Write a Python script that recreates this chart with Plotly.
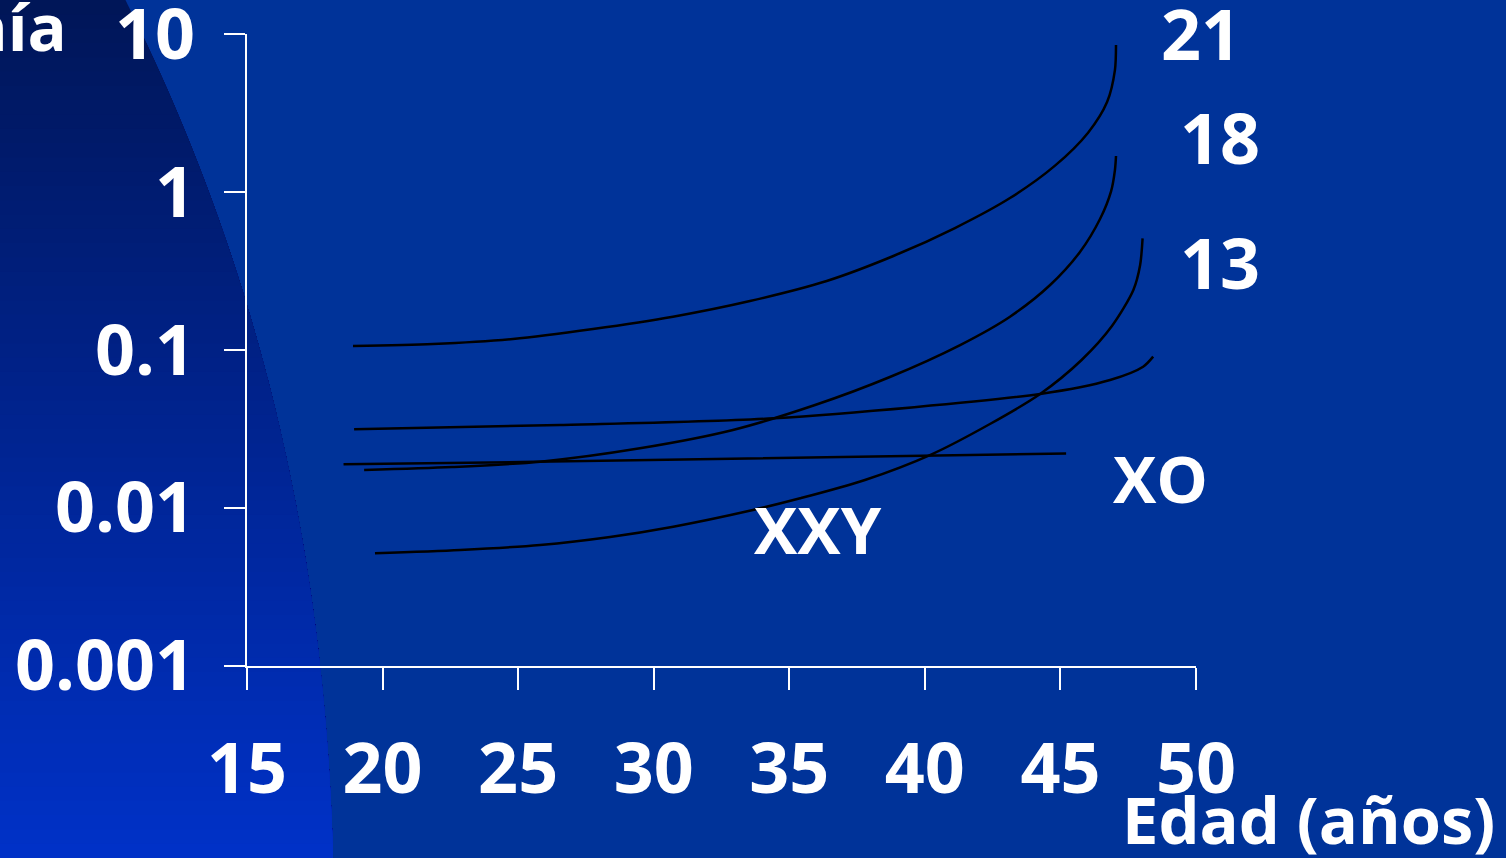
import numpy as np
import plotly.graph_objects as go

# Maternal age (years) and frequency (%) for each curve, log scale
age_21 = [18.91, 21.86, 24.81, 27.76, 30.71, 33.55, 36.38, 38.84, 41.11, 43.14, 44.80, 46.02, 46.72, 47.01, 47.05]
val_21 = [0.1060, 0.1091, 0.1174, 0.1358, 0.1625, 0.2042, 0.2734, 0.3935, 0.5918, 0.9162, 1.469, 2.376, 3.712, 5.918, 8.518]

age_18 = [19.32, 22.56, 25.81, 29.49, 32.92, 35.95, 38.71, 41.30, 43.14, 44.62, 45.72, 46.46, 46.87, 47.01, 47.05]
val_18 = [0.01740, 0.01817, 0.01963, 0.02386, 0.03116, 0.04485, 0.06747, 0.1075, 0.1625, 0.2578, 0.4173, 0.6749, 1.0147, 1.378, 1.690]

age_13 = [19.72, 22.86, 25.81, 28.39, 30.72, 33.66, 35.40, 37.79, 40.25, 42.40, 44.25, 45.78, 46.90, 47.69, 47.94, 48.03]
val_13 = [0.005168, 0.005423, 0.005833, 0.006555, 0.007613, 0.009712, 0.01151, 0.01504, 0.02187, 0.03401, 0.05266, 0.08643, 0.1418, 0.2397, 0.3451, 0.5093]

age_xxy = [18.95, 26.54, 34.44, 44.25, 46.83, 48.05, 48.42]
val_xxy = [0.0315, 0.0335, 0.0370, 0.0527, 0.0646, 0.0784, 0.0908]

age_xo = [18.56, 25.66, 45.21]
val_xo = [0.0189, 0.0196, 0.0221]

x_ticks = [15, 20, 25, 30, 35, 40, 45, 50]
y_ticks = [0.001, 0.01, 0.1, 1, 10]
y_tick_text = ["0.001", "0.01", "0.1", "1", "10"]

W, H = 1506, 858
L, R, T, B = 247, 1196, 34, 666  # plot area in pixels


def px(X):
    return (X - L) / (R - L)


def py(Y):
    return (B - Y) / (B - T)


BG = "#003399"
NUM_FONT = dict(family="Open Sans", size=70, color="white", weight="bold")
TXT_FONT = dict(family="Open Sans", size=65, color="white", weight="bold")

fig = go.Figure()
for a, v in [(age_21, val_21), (age_18, val_18), (age_13, val_13),
             (age_xxy, val_xxy), (age_xo, val_xo)]:
    fig.add_trace(go.Scatter(x=a, y=v, mode="lines",
                             line=dict(color="black", width=2.5, shape="spline", smoothing=0.8),
                             hoverinfo="skip", showlegend=False))

# Curved left panel with vertical gradient (stacked bands)
edge_y = np.array([0, 100, 200, 290, 380, 480, 560, 660, 858])
edge_x = np.array([127, 168, 213, 245, 267, 290, 305, 320, 333])
coef = np.polyfit(edge_y, edge_x, 3)
shapes = []
N = 60
top_c = np.array([0, 22, 88])
bot_c = np.array([0, 50, 200])
for i in range(N):
    y0 = H * i / N - (5 if i == 0 else 0)
    ys = np.linspace(y0, H + 5, 40)
    xs = np.polyval(coef, ys)
    pts = [f"{px(-10):.5f},{py(y0):.5f}"]
    pts += [f"{px(xx):.5f},{py(yy):.5f}" for xx, yy in zip(xs, ys)]
    pts += [f"{px(-10):.5f},{py(H + 5):.5f}"]
    t = (i + 0.5) / N
    c = (top_c + (bot_c - top_c) * t).astype(int)
    shapes.append(dict(type="path", xref="paper", yref="paper",
                       path="M " + " L ".join(pts) + " Z",
                       fillcolor=f"rgb({c[0]},{c[1]},{c[2]})",
                       line=dict(width=0), layer="below"))

annotations = [
    dict(text="21", x=px(1201), y=py(33), font=NUM_FONT),
    dict(text="18", x=px(1220), y=py(137), font=NUM_FONT),
    dict(text="13", x=px(1220), y=py(262), font=NUM_FONT),
    dict(text="XO", x=px(1160), y=py(478)),
    dict(text="XXY", x=px(818), y=py(529)),
    dict(text="Edad (años)", x=px(1497), y=py(819), xanchor="right"),
    dict(text="nía", x=px(69), y=py(26), xanchor="right"),
]
for a in annotations:
    a.setdefault("xanchor", "center")
    a.setdefault("font", TXT_FONT)
    a.update(xref="paper", yref="paper", yanchor="middle", showarrow=False)

fig.update_layout(
    width=W, height=H,
    margin=dict(l=L, r=W - R, t=T, b=H - B, pad=0, autoexpand=False),
    paper_bgcolor=BG, plot_bgcolor="rgba(0,0,0,0)",
    shapes=shapes, annotations=annotations,
    xaxis=dict(range=[15, 50], tickvals=x_ticks, ticks="outside", ticklen=22, tickwidth=2,
               tickcolor="white", showline=True, linecolor="white", linewidth=2,
               showgrid=False, zeroline=False, tickfont=NUM_FONT, ticklabelstandoff=19,
               ticklabeloverflow="allow", automargin=False),
    yaxis=dict(type="log", range=[-3.0005, 1.0005], tickvals=y_ticks, ticktext=y_tick_text,
               ticks="outside", ticklen=21, tickwidth=2, tickcolor="white",
               showline=True, linecolor="white", linewidth=2, showgrid=False,
               zeroline=False, tickfont=NUM_FONT, ticklabelstandoff=15,
               ticklabeloverflow="allow", automargin=False),
)

fig.write_html("out.html")
